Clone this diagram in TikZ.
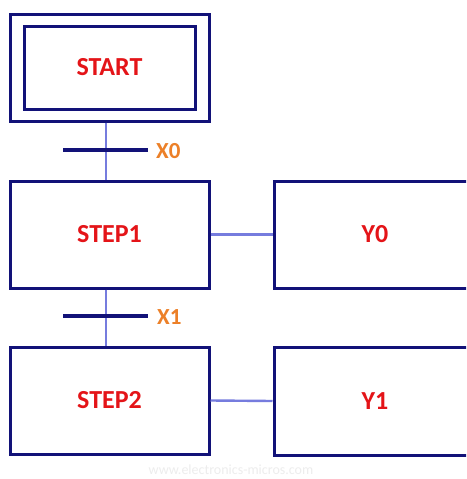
\documentclass[tikz,border=0pt]{standalone}
\usepackage{fontspec}
\setmainfont{Carlito}
\definecolor{framenavy}{RGB}{18,18,120}
\definecolor{linkblue}{RGB}{118,124,222}
\definecolor{labelred}{RGB}{228,20,24}
\definecolor{condorange}{RGB}{236,128,40}
\begin{document}
\begin{tikzpicture}[x=1pt,y=-1pt,
  stepbox/.style={draw=framenavy, line width=3pt, rectangle, fill=white,
    inner sep=0pt, font=\fontsize{26}{30}\selectfont\bfseries, text=labelred},
  link/.style={draw=linkblue, line width=2.4pt},
  bar/.style={draw=framenavy, line width=3.2pt},
  cond/.style={font=\fontsize{23}{26}\selectfont\bfseries, text=condorange, anchor=west, inner sep=0pt}]
  % page frame
  \clip (0,0) rectangle (466,479);
  \fill[white] (0,0) rectangle (466,479);

  % initial step (double frame)
  \node[stepbox, minimum width=199pt, minimum height=107pt] (startout) at (109.5,67.5) {};
  \node[stepbox, minimum width=171pt, minimum height=83pt] (start) at (109.5,67.5) {START};

  % steps
  \node[stepbox, minimum width=199pt, minimum height=107pt] (step1) at (109.5,234.5) {STEP1};
  \node[stepbox, minimum width=199pt, minimum height=107pt] (step2) at (109.5,400.5) {STEP2};

  % actions (running past the right margin)
  \node[stepbox, minimum width=202pt, minimum height=107pt] (y0) at (375,234.5) {Y0};
  \node[stepbox, minimum width=202pt, minimum height=108pt] (y1) at (375,401) {Y1};

  % vertical links through the transitions
  \draw[link] (106,0 |- startout.south) -- (106,0 |- step1.north);
  \draw[link] (106,0 |- step1.south) -- (106,0 |- step2.north);

  % transition bars
  \coordinate (b0l) at (63,150); \coordinate (b0r) at (148,150);
  \coordinate (b1l) at (63,316); \coordinate (b1r) at (148,316);
  \draw[bar] (b0l) -- (b0r);
  \draw[bar] (b1l) -- (b1r);
  \node[cond] (x0) at (156,151) {X0};
  \node[cond] (x1) at (157,317) {X1};

  % step-to-action links
  \draw[link] (step1.east) -- (y0.west);
  \draw[link] (step2.east) -- (y1.west);

  % site mark
  \node[font=\fontsize{14}{16}\selectfont, text=black!7] (site) at (231,470) {www.electronics-micros.com};
\end{tikzpicture}
\end{document}
